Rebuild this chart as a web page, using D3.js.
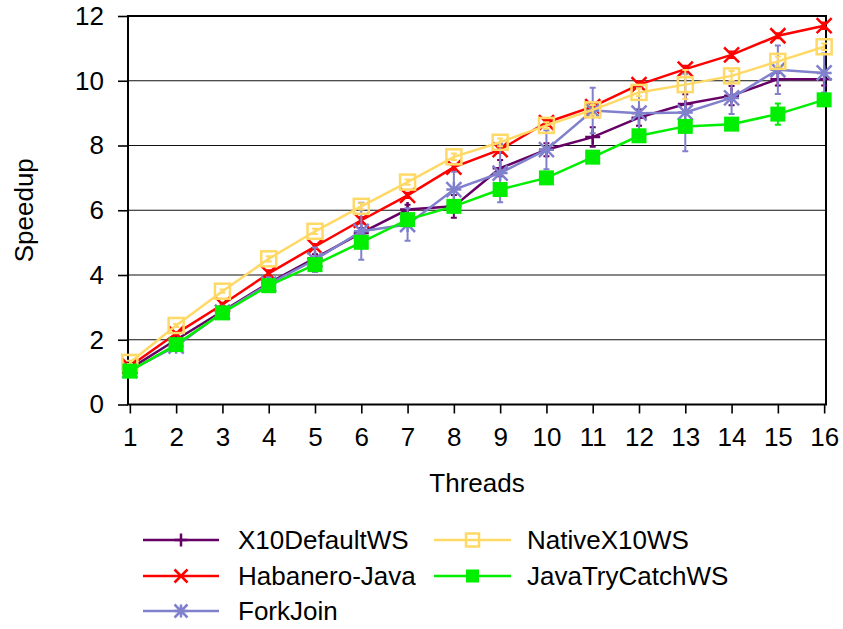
<!DOCTYPE html>
<html>
<head>
<meta charset="utf-8">
<script src="https://cdn.jsdelivr.net/npm/d3@7"></script>
<style>
    body { margin: 0; background: #fff; }
    text { font-family: "Liberation Sans", Arial, Helvetica, sans-serif; fill: #000; }
</style>
</head>
<body>
<div id="chart"></div>
<script>
// thread counts on the x axis
const threads = [1, 2, 3, 4, 5, 6, 7, 8, 9, 10, 11, 12, 13, 14, 15, 16];
const yTicks = [0, 2, 4, 6, 8, 10, 12];

// speedup values (mean and error half-width)
const x10Default = [1.1, 2.0, 2.88, 3.75, 4.52, 5.3, 6.02, 6.12, 7.3, 7.87, 8.26, 8.86, 9.28, 9.54, 10.05, 10.05];
const x10DefaultErr = [0.03, 0.05, 0.08, 0.2, 0.12, 0.15, 0.15, 0.35, 0.25, 0.2, 0.3, 0.25, 0.3, 0.3, 0.2, 0.2];
const habanero = [1.18, 2.19, 3.09, 4.05, 4.88, 5.69, 6.46, 7.33, 7.87, 8.71, 9.2, 9.88, 10.36, 10.8, 11.39, 11.7];
const habaneroErr = [0.03, 0.05, 0.05, 0.1, 0.08, 0.1, 0.08, 0.1, 0.1, 0.1, 0.1, 0.1, 0.1, 0.1, 0.08, 0.1];
const forkJoin = [1.05, 1.8, 2.85, 3.72, 4.47, 5.35, 5.56, 6.64, 7.15, 7.87, 9.08, 9.0, 9.02, 9.47, 10.34, 10.24];
const forkJoinErr = [0.05, 0.12, 0.15, 0.2, 0.38, 0.88, 0.5, 0.55, 0.9, 0.6, 0.7, 0.77, 1.2, 0.5, 0.75, 0.6];
const nativeX10 = [1.3, 2.44, 3.5, 4.5, 5.35, 6.12, 6.87, 7.65, 8.1, 8.62, 9.1, 9.64, 9.88, 10.15, 10.6, 11.05];
const nativeX10Err = [0.05, 0.05, 0.05, 0.08, 0.08, 0.1, 0.08, 0.1, 0.12, 0.1, 0.15, 0.12, 0.45, 0.15, 0.15, 0.1];
const javaTryCatch = [1.03, 1.85, 2.83, 3.67, 4.32, 5.01, 5.71, 6.12, 6.64, 7.0, 7.64, 8.3, 8.59, 8.66, 8.97, 9.41];
const javaTryCatchErr = [0.03, 0.05, 0.05, 0.08, 0.08, 0.1, 0.1, 0.1, 0.08, 0.08, 0.08, 0.08, 0.1, 0.08, 0.33, 0.1];

const seriesNames = ["X10DefaultWS", "Habanero-Java", "ForkJoin", "NativeX10WS", "JavaTryCatchWS"];

// build series table for drawing (legend order = drawing order)
const series = [
    { name: seriesNames[0], values: x10Default, err: x10DefaultErr, color: "#660066", marker: "plus" },
    { name: seriesNames[1], values: habanero, err: habaneroErr, color: "#ff0000", marker: "cross" },
    { name: seriesNames[2], values: forkJoin, err: forkJoinErr, color: "#8080cc", marker: "star" },
    { name: seriesNames[3], values: nativeX10, err: nativeX10Err, color: "#ffd966", marker: "openSquare" },
    { name: seriesNames[4], values: javaTryCatch, err: javaTryCatchErr, color: "#00ee00", marker: "filledSquare" }
];

const width = 843, height = 629;
const plot = { left: 128, right: 826, top: 16, bottom: 404.5 };

const svg = d3.select("#chart").append("svg")
    .attr("width", width)
    .attr("height", height);

const xScale = d3.scaleLinear()
    .domain([0.96, 16.04])
    .range([plot.left, plot.right]);

const yScale = d3.scaleLinear()
    .domain([0, 12])
    .range([plot.bottom, plot.top]);

// horizontal grid lines
svg.append("g")
    .selectAll("line")
    .data(yTicks.filter(d => d > 0 && d < 12))
    .enter().append("line")
    .attr("x1", plot.left).attr("x2", plot.right)
    .attr("y1", d => yScale(d)).attr("y2", d => yScale(d))
    .attr("stroke", "#111")
    .attr("stroke-width", 1.2);

// axes
const yAxis = d3.axisLeft(yScale).tickValues(yTicks).tickSize(10).tickPadding(14);
const xAxis = d3.axisBottom(xScale).tickValues(threads).tickSize(9).tickPadding(14);

const gy = svg.append("g")
    .attr("transform", "translate(" + plot.left + ",0)")
    .call(yAxis);
const gx = svg.append("g")
    .attr("transform", "translate(0," + plot.bottom + ")")
    .call(xAxis);

[gx, gy].forEach(g => {
    g.select(".domain").remove();
    g.selectAll(".tick line").attr("stroke", "#000").attr("stroke-width", 1.6);
    g.selectAll(".tick text").style("font-size", "26px").attr("fill", "#000");
});

// plot frame
svg.append("rect")
    .attr("x", plot.left).attr("y", plot.top)
    .attr("width", plot.right - plot.left)
    .attr("height", plot.bottom - plot.top)
    .attr("fill", "none")
    .attr("stroke", "#000")
    .attr("stroke-width", 2);

// axis titles
svg.append("text")
    .attr("x", xScale(8.5)).attr("y", 492)
    .attr("text-anchor", "middle")
    .style("font-size", "26px")
    .text("Threads");

svg.append("text")
    .attr("transform", "translate(33," + yScale(6) + ") rotate(-90)")
    .attr("text-anchor", "middle")
    .style("font-size", "26px")
    .text("Speedup");

function drawMarker(g, type, color, s) {
    const h = s / 2;
    if (type === "plus") {
        g.append("path").attr("d", `M${-h},0H${h}M0,${-h}V${h}`)
            .attr("stroke", color).attr("stroke-width", 2.5).attr("fill", "none");
    } else if (type === "cross") {
        g.append("path").attr("d", `M${-h},${-h}L${h},${h}M${-h},${h}L${h},${-h}`)
            .attr("stroke", color).attr("stroke-width", 2.5).attr("fill", "none");
    } else if (type === "star") {
        g.append("path").attr("d", `M${-h},0H${h}M0,${-h}V${h}M${-h},${-h}L${h},${h}M${-h},${h}L${h},${-h}`)
            .attr("stroke", color).attr("stroke-width", 2.5).attr("fill", "none");
    } else if (type === "openSquare") {
        g.append("rect").attr("x", -h).attr("y", -h).attr("width", s).attr("height", s)
            .attr("stroke", color).attr("stroke-width", 2.5).attr("fill", "none");
    } else if (type === "filledSquare") {
        g.append("rect").attr("x", -h).attr("y", -h).attr("width", s).attr("height", s)
            .attr("fill", color);
    }
}

const line = d3.line()
    .x((d, i) => xScale(threads[i]))
    .y(d => yScale(d));

series.forEach(s => {
    const g = svg.append("g").attr("class", "series");

    // error bars
    const bars = g.selectAll(".err")
        .data(s.values)
        .enter().append("g")
        .attr("class", "err");
    bars.append("path")
        .attr("d", (d, i) => {
            const x = xScale(threads[i]);
            const y1 = yScale(d + s.err[i]), y2 = yScale(d - s.err[i]);
            return `M${x},${y1}V${y2}M${x - 3},${y1}H${x + 3}M${x - 3},${y2}H${x + 3}`;
        })
        .attr("stroke", s.color)
        .attr("stroke-width", 2)
        .attr("fill", "none");

    g.append("path")
        .datum(s.values)
        .attr("d", line)
        .attr("stroke", s.color)
        .attr("stroke-width", 2.5)
        .attr("fill", "none");

    s.values.forEach((d, i) => {
        const m = g.append("g")
            .attr("transform", "translate(" + xScale(threads[i]) + "," + yScale(d) + ")");
        drawMarker(m, s.marker, s.color, 15);
    });
});

// legend, two columns filled column-first
const legendRows = [540, 576, 611];
const legendCols = [{ x1: 143, x2: 219, tx: 238 }, { x1: 434, x2: 511, tx: 527 }];

series.forEach((s, i) => {
    const col = legendCols[Math.floor(i / 3)];
    const y = legendRows[i % 3];
    const g = svg.append("g").attr("class", "legend-item");
    g.append("line")
        .attr("x1", col.x1).attr("x2", col.x2)
        .attr("y1", y).attr("y2", y)
        .attr("stroke", s.color)
        .attr("stroke-width", 2.5);
    const m = g.append("g").attr("transform", "translate(" + (col.x1 + col.x2) / 2 + "," + y + ")");
    drawMarker(m, s.marker, s.color, 13);
    g.append("text")
        .attr("x", col.tx).attr("y", y)
        .attr("dy", "0.36em")
        .style("font-size", "26px")
        .text(s.name);
});
</script>
</body>
</html>
